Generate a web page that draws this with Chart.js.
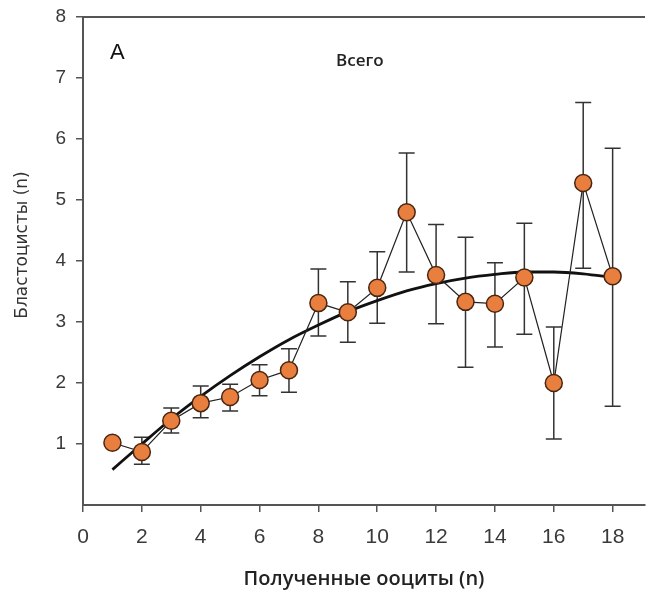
<!DOCTYPE html>
<html>
<head>
<meta charset="utf-8">
<script src="https://cdn.jsdelivr.net/npm/chart.js@4.4.1/dist/chart.umd.min.js"></script>
<style>
    html, body { margin: 0; padding: 0; background: #fff; }
    #wrap { width: 647px; height: 597px; }
</style>
</head>
<body>
<div id="wrap"><canvas id="blastChart"></canvas></div>
<script>
// Oocytes retrieved (x) vs blastocysts (mean, SE)
const oocytes   = [1, 2, 3, 4, 5, 6, 7, 8, 9, 10, 11, 12, 13, 14, 15, 16, 17, 18];
const blastMean = [1.02, 0.87, 1.38, 1.67, 1.77, 2.05, 2.21, 3.31, 3.16, 3.56, 4.80, 3.77, 3.33, 3.30, 3.73, 2.00, 5.28, 3.75];
const errHigh   = [null, 1.11, 1.59, 1.95, 1.98, 2.30, 2.56, 3.87, 3.66, 4.15, 5.77, 4.60, 4.39, 3.97, 4.62, 2.92, 6.60, 5.85];
const errLow    = [null, 0.67, 1.18, 1.43, 1.54, 1.79, 1.85, 2.77, 2.67, 2.98, 3.82, 2.97, 2.26, 2.59, 2.80, 1.08, 3.88, 1.62];
// fitted trend curve as drawn
const trendY    = [0.58, 1.00, 1.41, 1.78, 2.12, 2.43, 2.71, 2.95, 3.17, 3.35, 3.51, 3.63, 3.72, 3.78, 3.82, 3.82, 3.79, 3.73];

const xTitle = 'Полученные ооциты (n)';
const yTitle = 'Бластоцисты (n)';
const panelLetter = 'A';
const panelTitle = 'Всего';

const axisColor = '#555';
const tickFont = 'Liberation Sans, Arial, sans-serif';

const errorBars = {
    id: 'errorBars',
    beforeDatasetsDraw(chart) {
        const { ctx, scales: { x, y } } = chart;
        ctx.save();
        ctx.strokeStyle = '#333';
        ctx.lineWidth = 1.5;
        oocytes.forEach((n, i) => {
            if (errLow[i] == null) return;
            const px = x.getPixelForValue(n);
            const top = y.getPixelForValue(errHigh[i]);
            const bot = y.getPixelForValue(errLow[i]);
            ctx.beginPath();
            ctx.moveTo(px, top); ctx.lineTo(px, bot);
            ctx.moveTo(px - 8, top); ctx.lineTo(px + 8, top);
            ctx.moveTo(px - 8, bot); ctx.lineTo(px + 8, bot);
            ctx.stroke();
        });
        ctx.restore();
    }
};

const annotations = {
    id: 'annotations',
    afterDraw(chart) {
        const { ctx, chartArea } = chart;
        ctx.save();
        // top frame line
        ctx.strokeStyle = axisColor;
        ctx.lineWidth = 2;
        ctx.beginPath();
        ctx.moveTo(chartArea.left, chartArea.top);
        ctx.lineTo(chartArea.right, chartArea.top);
        ctx.stroke();

        ctx.fillStyle = '#111';
        ctx.textBaseline = 'middle';
        ctx.font = '22px ' + tickFont;
        ctx.fillText(panelLetter, 110, 53);

        ctx.fillStyle = '#222';
        ctx.font = '600 17px "Open Sans", sans-serif';
        ctx.fillText(panelTitle, 336, 61);

        // y axis title
        ctx.translate(23, 245);
        ctx.rotate(-Math.PI / 2);
        ctx.textAlign = 'center';
        ctx.fillStyle = '#333';
        ctx.font = '17px "DejaVu Sans", sans-serif';
        ctx.fillText(yTitle, 0, 0);
        ctx.restore();
    }
};

new Chart(document.getElementById('blastChart'), {
    type: 'line',
    data: {
        datasets: [{
            label: 'Бластоцисты',
            data: oocytes.map((n, i) => ({ x: n, y: blastMean[i] })),
            borderColor: '#222',
            borderWidth: 1.2,
            pointRadius: 8.5,
            pointBackgroundColor: '#e97f3f',
            pointBorderColor: '#4a2510',
            pointBorderWidth: 1.5,
            tension: 0,
            clip: false,
            order: 0
        }, {
            label: 'Тренд',
            data: oocytes.map((n, i) => ({ x: n, y: trendY[i] })),
            borderColor: '#111',
            borderWidth: 2.8,
            pointRadius: 0,
            cubicInterpolationMode: 'monotone',
            order: 1
        }]
    },
    options: {
        responsive: true,
        maintainAspectRatio: false,
        animation: false,
        layout: { autoPadding: false, padding: { top: 17, right: 2, left: 0, bottom: 0 } },
        plugins: {
            legend: { display: false },
            tooltip: { enabled: false }
        },
        scales: {
            x: {
                type: 'linear',
                min: 0,
                max: 19.1,
                afterFit: s => {
                    s.height = 92;
                    s.paddingLeft = 0;
                    s.paddingRight = 0;
                },
                ticks: {
                    stepSize: 2,
                    includeBounds: false,
                    autoSkip: false,
                    maxRotation: 0,
                    padding: 9,
                    color: '#3a3a3a',
                    font: { family: tickFont, size: 21, lineHeight: 1.5 }
                },
                grid: { drawOnChartArea: false, tickLength: 7, color: axisColor, lineWidth: 1.5 },
                border: { color: axisColor, width: 2 },
                title: {
                    display: true,
                    text: xTitle,
                    color: '#222',
                    font: { family: 'Open Sans', size: 20, weight: '600' },
                    padding: { top: 0, bottom: 6 }
                }
            },
            y: {
                min: 0,
                max: 8,
                afterFit: s => { s.width = 83; },
                ticks: {
                    stepSize: 1,
                    padding: 10,
                    color: '#3a3a3a',
                    font: { family: tickFont, size: 19, lineHeight: 0.7 },
                    callback: v => (v === 0 ? null : v)
                },
                grid: { drawOnChartArea: false, tickLength: 7, color: axisColor, lineWidth: 1.5 },
                border: { color: axisColor, width: 2 }
            }
        }
    },
    plugins: [errorBars, annotations]
});
</script>
</body>
</html>
